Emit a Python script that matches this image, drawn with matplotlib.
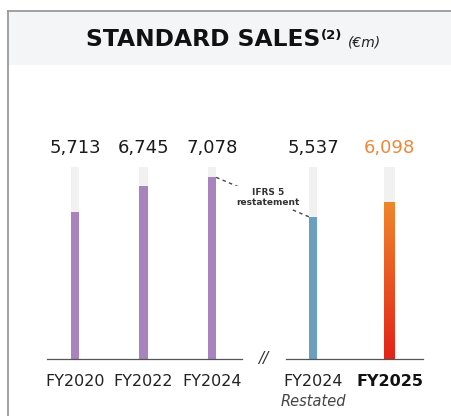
import matplotlib
matplotlib.use("Agg")
import matplotlib.pyplot as plt
import numpy as np
from matplotlib.lines import Line2D
from matplotlib.patches import Rectangle
from matplotlib.colors import LinearSegmentedColormap

# ---- data ----
hist_labels = ["FY2020", "FY2022", "FY2024"]
hist_values = [5713, 6745, 7078]
hist_text = ["5,713", "6,745", "7,078"]
new_labels = ["FY2024", "FY2025"]
new_sublabels = ["Restated", ""]
new_values = [5537, 6098]
new_text = ["5,537", "6,098"]
track_max = 7490
title = "STANDARD SALES"
note = "IFRS 5\nrestatement"

W, H = 452, 416
fig = plt.figure(figsize=(W / 100, H / 100), dpi=100)
fig.patch.set_facecolor("white")

def fx(px):
    return px / W

def fy(py):
    return 1 - py / H

# header band + border
fig.add_artist(Rectangle((fx(8), fy(65)), fx(452 - 8), (65 - 11) / H,
                         transform=fig.transFigure, facecolor="#f4f5f7",
                         edgecolor="none", zorder=0))
fig.add_artist(Line2D([fx(8), fx(8)], [fy(11), fy(416)], transform=fig.transFigure,
                      color="#9a9a9a", lw=1.3))
fig.add_artist(Line2D([fx(8), fx(452)], [fy(11), fy(11)], transform=fig.transFigure,
                      color="#9a9a9a", lw=1.3))

# title
t1 = fig.text(fx(86), fy(40), title, fontsize=16.8, fontweight="bold",
              color="#111111", va="center", ha="left")
fig.canvas.draw()
r = fig.canvas.get_renderer()
bb = t1.get_window_extent(r)
x_end = bb.x1 / W
t2 = fig.text(x_end + 1 / W, fy(35), "(2)", fontsize=9.5, fontweight="bold",
              color="#111111", va="center", ha="left")
bb2 = t2.get_window_extent(r)
fig.text(bb2.x1 / W + 5 / W, fy(42), "(€m)", fontsize=10, style="italic",
         color="#222222", va="center", ha="left")

base_y = 359.3
top_y = 100
ymax = (base_y - top_y) * 38.9

purple = "#a983be"
blue = "#6a9fc0"
track = "#f1f1f1"

axL = fig.add_axes([fx(47), fy(base_y), fx(242 - 47), (base_y - top_y) / H])
axR = fig.add_axes([fx(286), fy(base_y), fx(423 - 286), (base_y - top_y) / H])
for ax in (axL, axR):
    ax.set_ylim(0, ymax)
    for s in ("top", "right", "left"):
        ax.spines[s].set_visible(False)
    ax.spines["bottom"].set_color("#555555")
    ax.spines["bottom"].set_linewidth(0.9)
    ax.set_yticks([])
    ax.set_xticks([])
    ax.patch.set_alpha(0)

axL.set_xlim(-0.41, 2.44)
axR.set_xlim(-0.357, 1.436)

xl = np.arange(len(hist_values))
wl = 0.125
axL.bar(xl, [track_max] * len(xl), width=wl, color=track, zorder=1)
axL.bar(xl, hist_values, width=wl, color=purple, zorder=2)
for x, v, t, lab in zip(xl, hist_values, hist_text, hist_labels):
    axL.annotate(t, (x, track_max), xytext=(0, 13.5), textcoords="offset points",
                 ha="center", va="center", fontsize=13, color="#1a1a1a")
    axL.annotate(lab, (x, 0), xycoords=("data", "axes fraction"), xytext=(0, -16.1),
                 textcoords="offset points", ha="center", va="center",
                 fontsize=11.5, color="#222222")

xr = np.arange(len(new_values))
widths = [0.105, 0.14]
for x, v, t, lab, sub, w in zip(xr, new_values, new_text, new_labels, new_sublabels, widths):
    axR.bar(x, track_max, width=w, color=track, zorder=1)
    if x == 0:
        axR.bar(x, v, width=w, color=blue, zorder=2)
        col = "#1a1a1a"
        fw = "normal"
    else:
        cmap = LinearSegmentedColormap.from_list("g", ["#e2231a", "#f0862a"])
        grad = np.linspace(0, 1, 256).reshape(-1, 1)
        axR.imshow(grad, cmap=cmap, origin="lower", aspect="auto",
                   extent=[x - w / 2, x + w / 2, 0, v], zorder=2)
        col = "#f0883a"
        fw = "bold"
    axR.annotate(t, (x, track_max), xytext=(0, 13.5), textcoords="offset points",
                 ha="center", va="center", fontsize=13, color=col)
    axR.annotate(lab, (x, 0), xycoords=("data", "axes fraction"), xytext=(0, -16.1),
                 textcoords="offset points", ha="center", va="center",
                 fontsize=11.5, color="#222222" if x == 0 else "#111111", fontweight=fw)
    if sub:
        axR.annotate(sub, (x, 0), xycoords=("data", "axes fraction"), xytext=(0, -30.5),
                     textcoords="offset points", ha="center", va="center",
                     fontsize=10.5, style="italic", color="#444444")
axR.set_xlim(-0.357, 1.436)
axR.set_ylim(0, ymax)

# dashed IFRS connector between bar tops
p1 = axL.transData.transform((xl[-1] + wl / 2, hist_values[-1]))
p2 = axR.transData.transform((xr[0] - widths[0] / 2, new_values[0]))
fig.add_artist(Line2D([p1[0] / W, p2[0] / W], [p1[1] / H, p2[1] / H],
                      transform=fig.transFigure, color="#444444", lw=1.0,
                      ls=(0, (2.5, 2.5)), zorder=3))
fig.text(fx(268), fy(197.5), note, fontsize=6.5, fontweight="bold", color="#333333",
         ha="center", va="center", linespacing=1.25, zorder=4,
         bbox=dict(facecolor="white", edgecolor="none", pad=1.5))

# axis break marker
fig.text(fx(263), fy(359), "//", fontsize=11, style="italic", color="#333333",
         ha="center", va="center")

fig.savefig("out.png", dpi=100)
